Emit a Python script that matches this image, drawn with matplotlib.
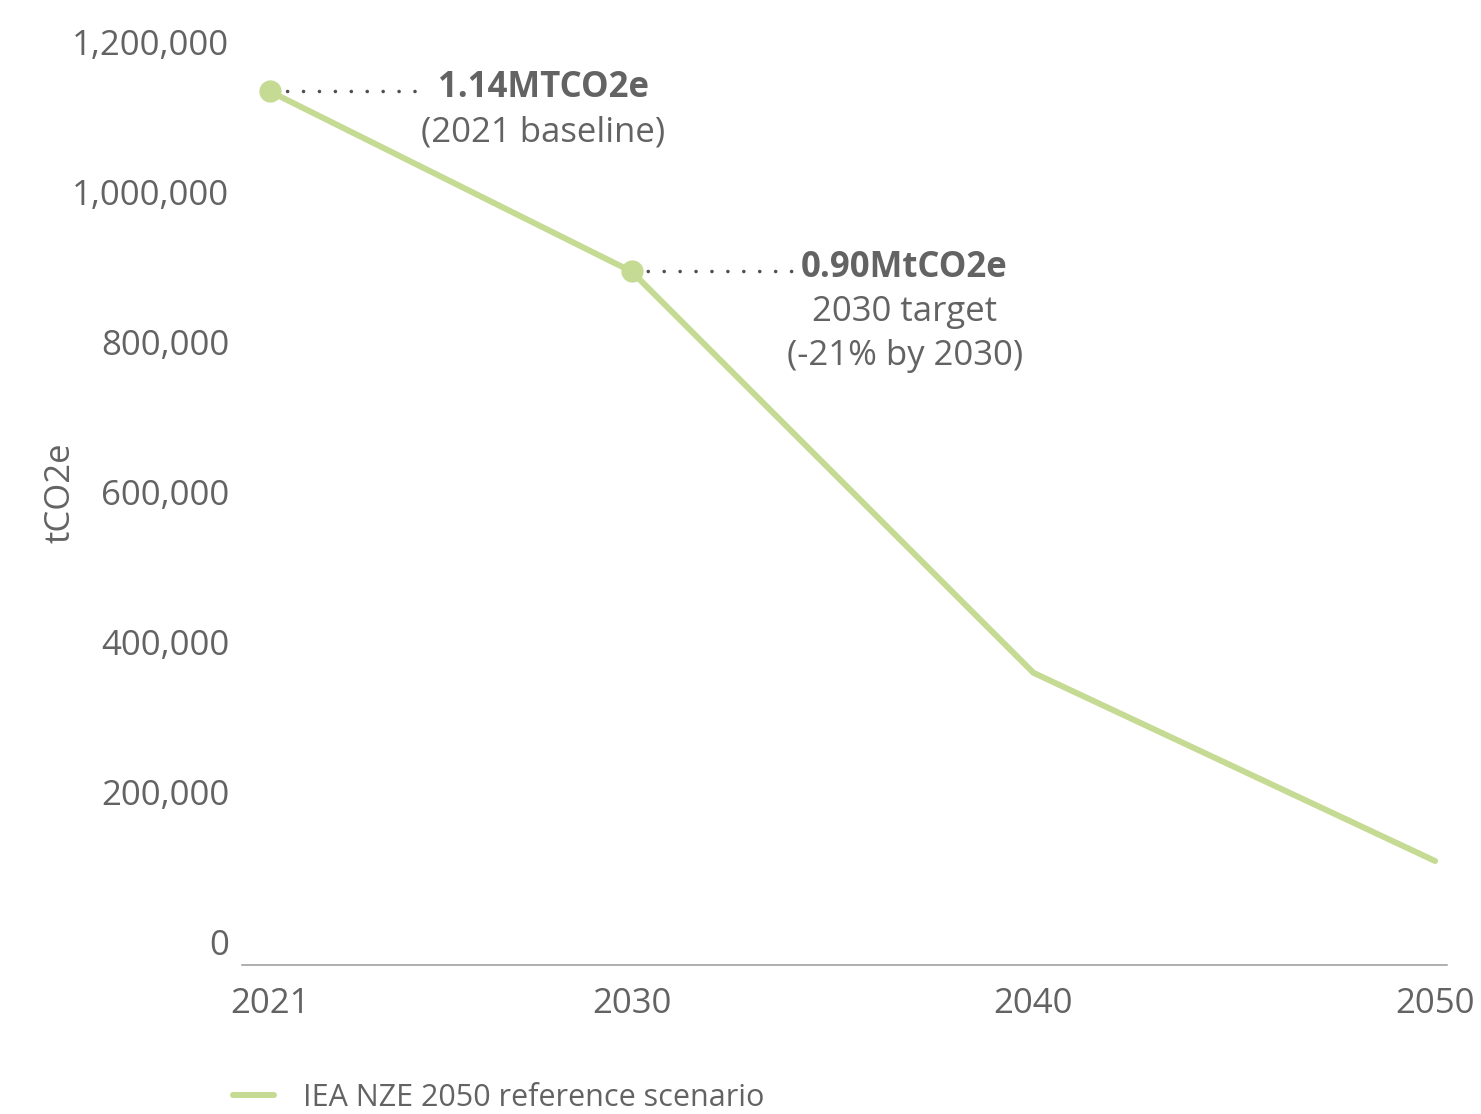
import matplotlib
matplotlib.use('Agg')
import matplotlib.pyplot as plt
import matplotlib.transforms as mtransforms
from matplotlib.ticker import FuncFormatter

plt.rcParams['font.family'] = ['Open Sans', 'DejaVu Sans']

# Траектория выбросов (tCO2e)
years = [2021, 2030, 2040, 2050]
emissions = [1140000, 900000, 365000, 114000]
marked = [0, 1]  # точки с подписями

y_ticks = [0, 200000, 400000, 600000, 800000, 1000000, 1200000]
x_ticks = [2021, 2030, 2040, 2050]

label_main = ['1.14MTCO2e', '0.90MtCO2e']
label_sub = [['(2021 baseline)'], ['2030 target', '(-21% by 2030)']]
series_name = 'IEA NZE 2050 reference scenario'

green = '#c5da92'
text_col = '#636363'
fs = 25

fig = plt.figure(figsize=(14.81, 11.14), dpi=100)
ax = fig.add_axes([0.1632, 0.13375, 0.8137, 0.8483])

ax.plot(years, emissions, color=green, linewidth=4.3, solid_capstyle='round',
        solid_joinstyle='round', label=series_name, zorder=3)
ax.plot([years[i] for i in marked], [emissions[i] for i in marked], 'o',
        color=green, markersize=15, zorder=4)

ax.set_xlim(2020.295, 2050.29)
ax.set_ylim(-24667, 1235333)
ax.set_xticks(x_ticks)
ax.set_yticks(y_ticks)
ax.yaxis.set_major_formatter(FuncFormatter(lambda v, p: f'{int(v):,}'))
ax.tick_params(axis='both', length=0, labelsize=fs, labelcolor=text_col)
ax.tick_params(axis='y', pad=9)
ax.tick_params(axis='x', pad=16)

# подписи оси Y чуть выше своих уровней
shift_up = mtransforms.ScaledTranslation(0, 4.5 / 100, fig.dpi_scale_trans)
for t in ax.yaxis.get_major_ticks():
    t.label1.set_transform(t.label1.get_transform() + shift_up)

for s in ['top', 'right', 'left']:
    ax.spines[s].set_visible(False)
ax.spines['bottom'].set_color('#9a9a9a')
ax.spines['bottom'].set_linewidth(1.1)

ax.set_ylabel('tCO2e', fontsize=fs, color=text_col)
ax.yaxis.set_label_coords(-0.1365, 0.5)

# Подписи к точкам: пунктир + текст
dot_end = [145, 160]
for k, i in enumerate(marked):
    xy = (years[i], emissions[i])
    ax.annotate('', xy=xy, xytext=(dot_end[k] * 0.72, 0), textcoords='offset points',
                arrowprops=dict(arrowstyle='-', color='#505050', linewidth=2.6,
                                linestyle=(0, (0.01, 4.4)), capstyle='round',
                                shrinkA=0, shrinkB=9))
    ax.annotate(label_main[k], xy=xy, xytext=(273 * 0.72, -5.5 * 0.72),
                textcoords='offset points', ha='center', va='baseline',
                fontsize=fs, fontweight='bold', color=text_col)
    for j, line in enumerate(label_sub[k]):
        ax.annotate(line, xy=xy, xytext=(273 * 0.72, (-50 - 43.5 * j) * 0.72),
                    textcoords='offset points', ha='center', va='baseline',
                    fontsize=fs, color=text_col)

fig.legend(loc='center left', bbox_to_anchor=(233 / 1481, 1 - 1098 / 1114),
           frameon=False, fontsize=22, labelcolor=text_col, borderpad=0,
           borderaxespad=0, handlelength=1.35, handletextpad=0.95)

fig.savefig('out.png', dpi=100)
